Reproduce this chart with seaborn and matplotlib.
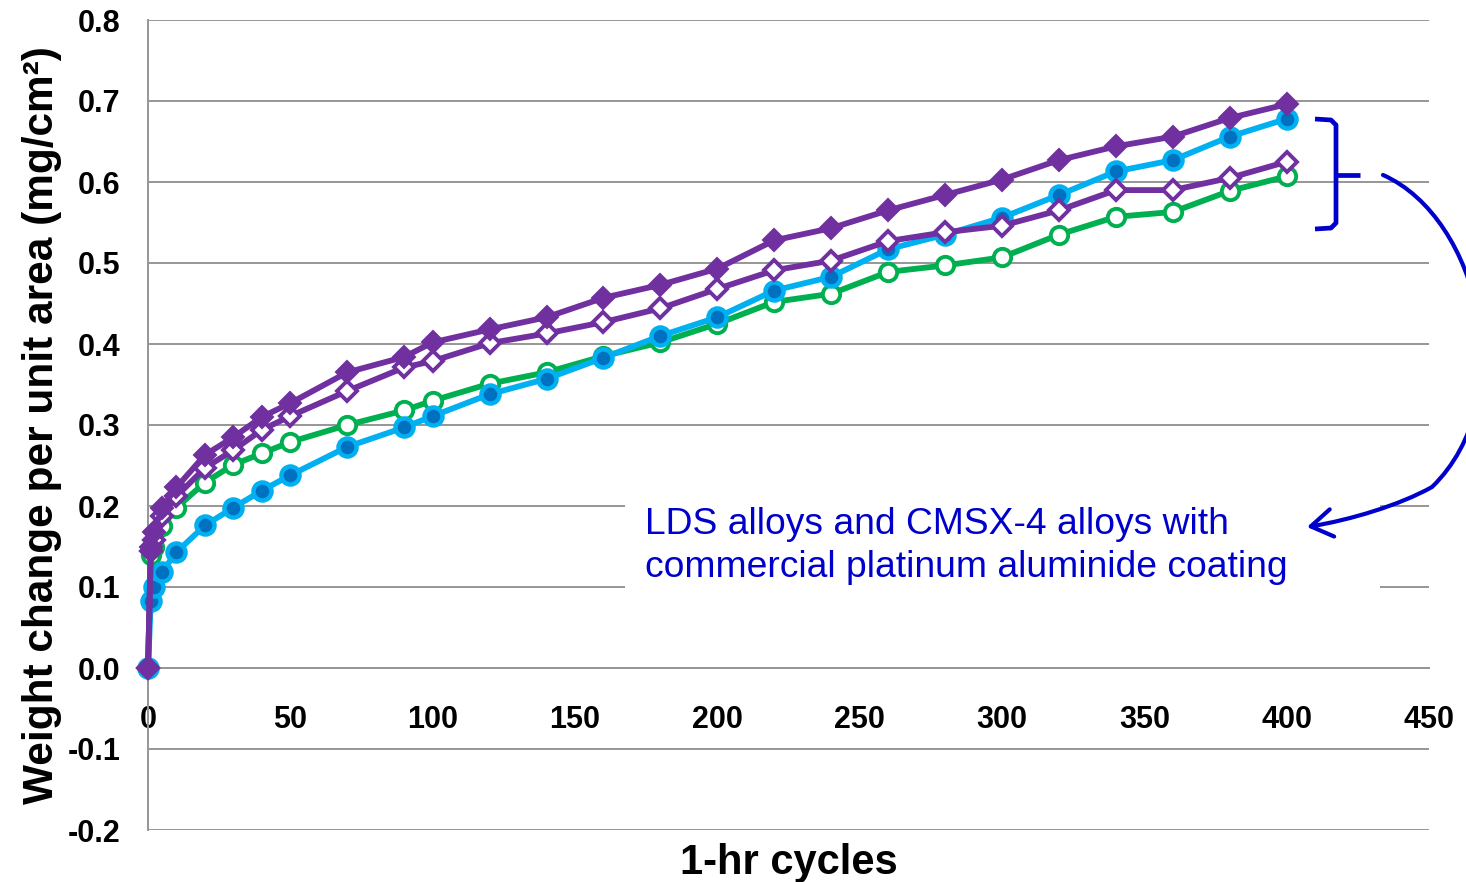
import numpy as np
import pandas as pd
import seaborn as sns
import matplotlib
matplotlib.use("Agg")
import matplotlib.pyplot as plt
from matplotlib.path import Path
from matplotlib.patches import FancyArrowPatch, Rectangle
from matplotlib.lines import Line2D
from matplotlib.ticker import FormatStrFormatter

# ---------------- data ----------------
cycles = [0, 1, 2, 5, 10, 20, 30, 40, 50, 70, 90, 100, 120, 140, 160, 180, 200,
          220, 240, 260, 280, 300, 320, 340, 360, 380, 400]

blue_filled_circle = [0.0, 0.083, 0.100, 0.119, 0.143, 0.176, 0.198, 0.219, 0.238,
                      0.273, 0.297, 0.311, 0.338, 0.357, 0.383, 0.410, 0.433,
                      0.466, 0.483, 0.517, 0.535, 0.556, 0.584, 0.613, 0.627,
                      0.656, 0.678]
green_open_circle = [0.0, 0.140, 0.150, 0.175, 0.198, 0.229, 0.251, 0.265, 0.279,
                     0.300, 0.318, 0.330, 0.351, 0.365, 0.385, 0.402, 0.425,
                     0.452, 0.462, 0.489, 0.497, 0.507, 0.535, 0.557, 0.563,
                     0.589, 0.607]
purple_open_diamond = [0.0, 0.145, 0.158, 0.188, 0.212, 0.247, 0.269, 0.294, 0.311,
                       0.342, 0.371, 0.379, 0.401, 0.413, 0.427, 0.444, 0.468,
                       0.491, 0.503, 0.527, 0.538, 0.546, 0.565, 0.590, 0.590,
                       0.605, 0.625]
purple_filled_diamond = [0.0, 0.150, 0.168, 0.198, 0.223, 0.263, 0.285, 0.310, 0.327,
                         0.365, 0.384, 0.402, 0.418, 0.433, 0.457, 0.473, 0.493,
                         0.528, 0.543, 0.565, 0.584, 0.603, 0.627, 0.644, 0.656,
                         0.679, 0.696]

x_ticks = [0, 50, 100, 150, 200, 250, 300, 350, 400, 450]
y_ticks = [-0.2, -0.1, 0.0, 0.1, 0.2, 0.3, 0.4, 0.5, 0.6, 0.7, 0.8]

x_label = "1-hr cycles"
y_label = "Weight change per unit area (mg/cm²)"
note_text = "LDS alloys and CMSX-4 alloys with\ncommercial platinum aluminide coating"

# ---------------- style ----------------
sns.set_style("white")
plt.rcParams['font.family'] = ['Liberation Sans', 'DejaVu Sans']
plt.rcParams['axes.unicode_minus'] = False
plt.rcParams['text.color'] = 'black'
plt.rcParams['axes.labelcolor'] = 'black'
plt.rcParams['xtick.labelcolor'] = 'black'
plt.rcParams['ytick.labelcolor'] = 'black'

W, H = 1466, 882
fig = plt.figure(figsize=(W / 100, H / 100), dpi=100)
ax = fig.add_axes([148 / W, 1 - 830 / H, (1429 - 148) / W, (830 - 20) / H])

GRID = '#969696'
NOTE = '#0000CC'

series = [
    dict(y=green_open_circle, color='#00B050', marker='o', ms=12.5,
         mfc='white', mec='#00B050', mew=2.8),
    dict(y=blue_filled_circle, color='#00B0F0', marker='o', ms=13,
         mfc='#0070C0', mec='#00B0F0', mew=3.2),
    dict(y=purple_open_diamond, color='#7030A0', marker='D', ms=10.5,
         mfc='white', mec='#7030A0', mew=2.8),
    dict(y=purple_filled_diamond, color='#7030A0', marker='D', ms=11.5,
         mfc='#7030A0', mec='#7030A0', mew=1.5),
]

for i, s in enumerate(series):
    df = pd.DataFrame({'cycles': cycles, 'value': s['y']})
    sns.lineplot(data=df, x='cycles', y='value', ax=ax, estimator=None,
                 errorbar=None, sort=False, color=s['color'], linewidth=4.2,
                 marker=s['marker'], markersize=s['ms'],
                 markerfacecolor=s['mfc'], markeredgecolor=s['mec'],
                 markeredgewidth=s['mew'], zorder=3 + i, clip_on=False)

ax.set_xlim(0, 450)
ax.set_ylim(-0.2, 0.8)
ax.set_xticks(x_ticks)
ax.set_yticks(y_ticks)
ax.yaxis.set_major_formatter(FormatStrFormatter('%.1f'))

ax.grid(axis='y', color=GRID, lw=1.4)
ax.grid(axis='x', visible=False)
ax.set_axisbelow(True)

for side in ['top', 'right']:
    ax.spines[side].set_visible(False)
ax.spines['left'].set_color(GRID)
ax.spines['left'].set_linewidth(1.4)
ax.spines['bottom'].set_position(('data', 0))
ax.spines['bottom'].set_color(GRID)
ax.spines['bottom'].set_linewidth(1.4)

ax.tick_params(axis='x', direction='out', length=8.5, width=1.4, color=GRID,
               pad=18, labelsize=22, labelcolor='black')
ax.tick_params(axis='y', direction='out', length=7, width=1.4, color=GRID,
               pad=13, labelsize=22, labelcolor='black')
for lab in ax.get_xticklabels() + ax.get_yticklabels():
    lab.set_fontweight('bold')

ax.set_xlabel(x_label, fontsize=30, fontweight='bold', color='black')
ax.set_ylabel(y_label, fontsize=30.5, fontweight='bold', color='black')
ax.xaxis.label.set_va('center')
ax.xaxis.set_label_coords((789 - 148) / (1429 - 148), (830 - 863) / (830 - 20))
ax.yaxis.set_label_coords((62 - 148) / (1429 - 148), 0.5)


def fx(px):
    return px / W


def fy(py):
    return 1 - py / H


# white box behind the note (hides grid lines)
fig.add_artist(Rectangle((fx(625), fy(593)), fx(1380) - fx(625), fy(500) - fy(593),
                         transform=fig.transFigure, facecolor='white',
                         edgecolor='none', zorder=2))
fig.text(fx(645), fy(546), note_text, color=NOTE, fontsize=26.8,
         ha='left', va='center', linespacing=1.3, zorder=3)

# bracket
bx = [fx(1315), fx(1331), fx(1336), fx(1336), fx(1331), fx(1315)]
by = [fy(119), fy(120), fy(125), fy(223), fy(228), fy(229)]
fig.add_artist(Line2D(bx, by, transform=fig.transFigure, color=NOTE, lw=3.4,
                      solid_capstyle='butt', solid_joinstyle='round', zorder=6))
fig.add_artist(Line2D([fx(1336), fx(1360)], [fy(175), fy(175)],
                      transform=fig.transFigure, color=NOTE, lw=3.4,
                      solid_capstyle='butt', zorder=6))

# curved arrow
verts = [(fx(1383), fy(175)),
         (fx(1480), fy(218)), (fx(1522), fy(400)), (fx(1432), fy(487)),
         (fx(1400), fy(505)), (fx(1350), fy(520)), (fx(1307), fy(527))]
codes = [Path.MOVETO, Path.CURVE4, Path.CURVE4, Path.CURVE4,
         Path.CURVE4, Path.CURVE4, Path.CURVE4]
arrow = FancyArrowPatch(path=Path(verts, codes),
                        arrowstyle='->,head_length=0.7,head_width=0.45',
                        mutation_scale=22, color=NOTE, lw=3.0,
                        transform=fig.transFigure, zorder=6)
fig.add_artist(arrow)

fig.savefig('out.png', dpi=100)
